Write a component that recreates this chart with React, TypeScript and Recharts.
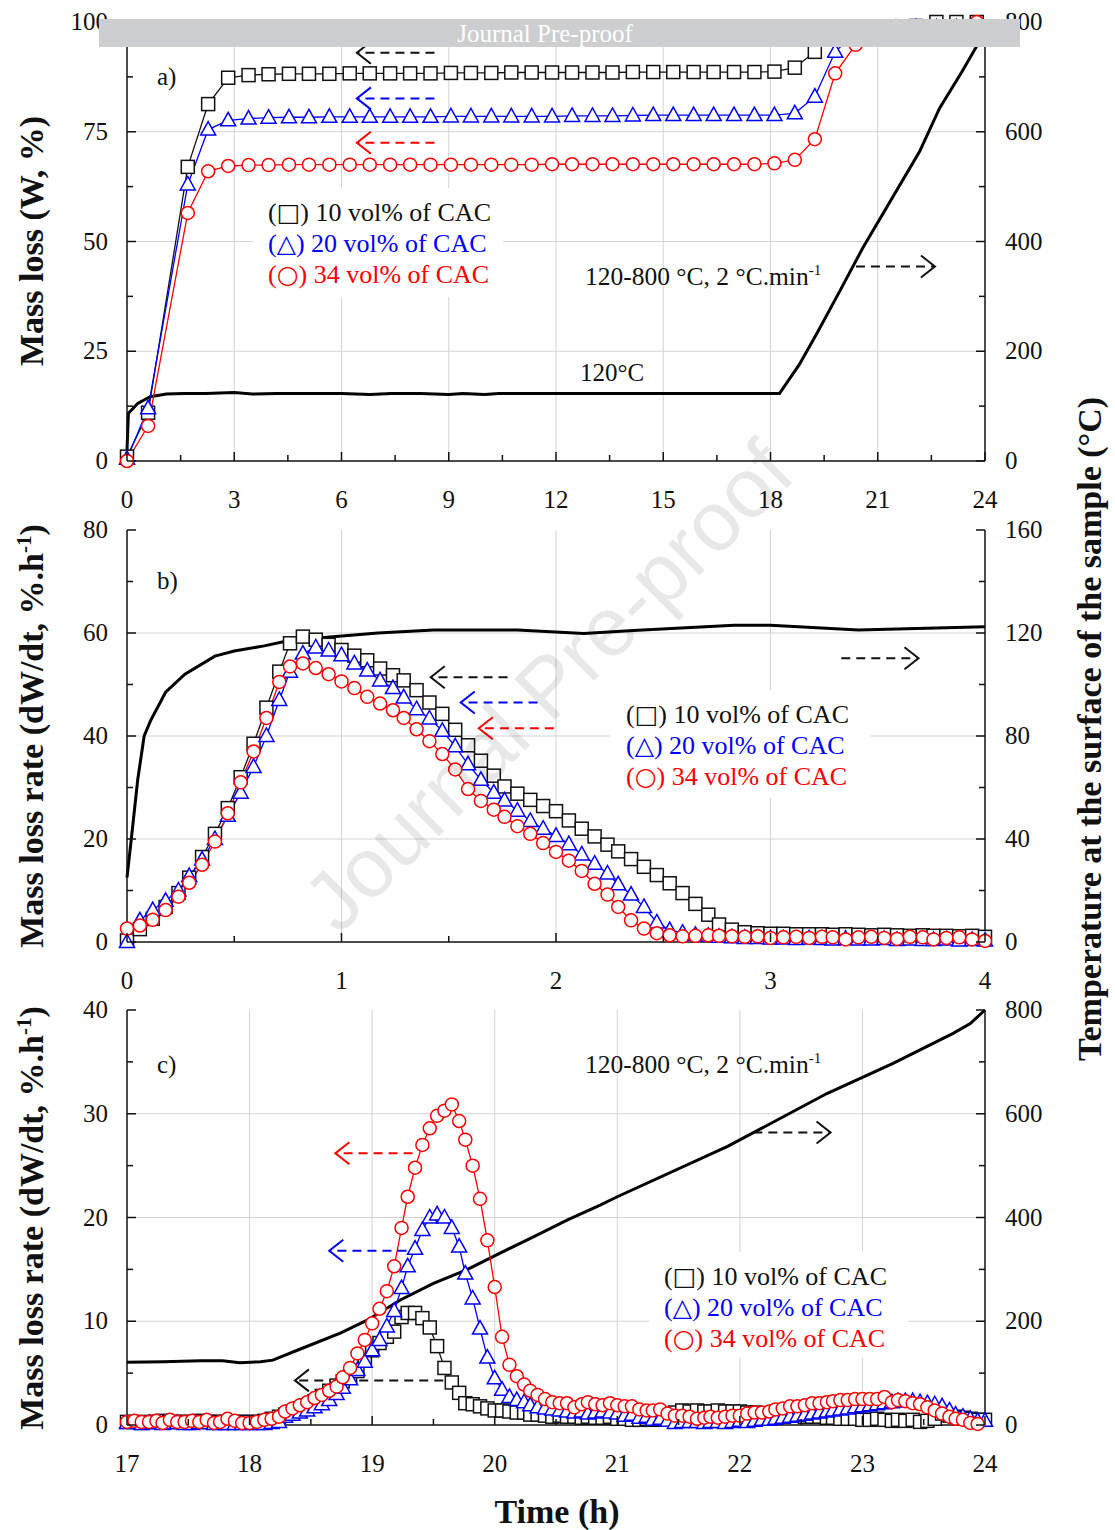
import React from "react";
import { ComposedChart, Line, XAxis, YAxis, CartesianGrid, ReferenceLine } from "recharts";

// ---------- panel a) mass loss, 0-24 h ----------
const timeA = [0, 0.59, 1.7, 2.27, 2.83, 3.4, 3.96, 4.53, 5.09, 5.66, 6.23, 6.79, 7.36, 7.92, 8.49, 9.06, 9.62, 10.19, 10.75, 11.32, 11.89, 12.45, 13.02, 13.58, 14.15, 14.72, 15.28, 15.85, 16.41, 16.98, 17.55, 18.11, 18.68, 19.24, 19.81, 20.38, 20.94, 21.51, 22.07, 22.64, 23.2, 23.77];
const lossA10 = [1, 11, 67, 81.3, 87.3, 87.9, 88.1, 88.2, 88.2, 88.2, 88.3, 88.3, 88.3, 88.3, 88.3, 88.4, 88.4, 88.4, 88.5, 88.5, 88.5, 88.5, 88.5, 88.5, 88.6, 88.6, 88.6, 88.6, 88.6, 88.6, 88.6, 88.7, 89.6, 93.2, 97, 98.3, 98.8, 99.0, 99.1, 100, 100, 100];
const lossA20 = [0.5, 12, 63, 75.5, 77.6, 78, 78.2, 78.3, 78.3, 78.4, 78.4, 78.4, 78.4, 78.4, 78.4, 78.5, 78.5, 78.5, 78.5, 78.5, 78.5, 78.6, 78.6, 78.6, 78.7, 78.8, 78.8, 78.8, 78.8, 78.8, 78.8, 78.8, 79.2, 83, 93.2, 97.6, 98.4, 98.7, 98.8, 98.8, 98.8, 98.8];
const lossA34 = [0, 8, 56.5, 66, 67.2, 67.4, 67.4, 67.5, 67.5, 67.5, 67.5, 67.5, 67.5, 67.5, 67.5, 67.5, 67.5, 67.5, 67.5, 67.5, 67.6, 67.6, 67.6, 67.6, 67.6, 67.6, 67.6, 67.6, 67.6, 67.6, 67.6, 67.8, 68.6, 73.3, 88.3, 94.8, 97.5, 98.3, 98.7, 99.0, 99.1, 100];
const tempTimeA = [0, 0.04, 0.3, 0.65, 1.1, 1.6, 2.2, 3.0, 3.5, 4.2, 5, 6, 6.8, 7.4, 8.2, 9.0, 9.4, 10.0, 10.4, 11.2, 12, 13, 14, 15, 16, 17, 18.25, 18.8, 19.3, 19.9, 20.58, 22.17, 22.73, 23.35, 23.76, 24];
const tempA = [20, 87, 105, 117, 122, 123, 123, 125, 122, 123, 123, 123, 121, 123, 123, 121, 123, 121, 123, 123, 123, 123, 123, 123, 123, 123, 123, 175, 233, 305, 388, 564, 643, 709, 755, 800];

// ---------- panel b) mass loss rate, 0-4 h ----------
const timeB = [0, 0.06, 0.12, 0.18, 0.24, 0.29, 0.35, 0.41, 0.47, 0.53, 0.59, 0.65, 0.71, 0.76, 0.82, 0.88, 0.94, 1.0, 1.06, 1.12, 1.18, 1.24, 1.29, 1.35, 1.41, 1.47, 1.53, 1.59, 1.65, 1.71, 1.76, 1.82, 1.88, 1.94, 2.0, 2.06, 2.12, 2.18, 2.24, 2.29, 2.35, 2.41, 2.47, 2.53, 2.59, 2.65, 2.71, 2.76, 2.82, 2.88, 2.94, 3.0, 3.06, 3.12, 3.18, 3.24, 3.29, 3.35, 3.41, 3.47, 3.53, 3.59, 3.65, 3.71, 3.76, 3.82, 3.88, 3.94, 4.0];
const rateB10 = [0.3, 2.5, 4.5, 6.8, 9.5, 12.5, 16.5, 21, 26, 32, 38.5, 45.5, 52.5, 58, 59.3, 58.7, 57.7, 56.7, 55.6, 54.7, 53.1, 51.8, 50.8, 48.9, 46.5, 44.3, 41.2, 38.2, 35.2, 32.3, 30.2, 28.8, 27.6, 26.4, 25.4, 23.6, 22.0, 20.5, 18.9, 17.6, 16.1, 14.6, 13.0, 11.4, 9.5, 7.4, 5.3, 3.4, 2.4, 1.9, 1.7, 1.6, 1.6, 1.5, 1.5, 1.5, 1.4, 1.5, 1.4, 1.3, 1.4, 1.3, 1.2, 1.3, 1.2, 1.2, 1.1, 1.2, 1.0];
const rateB20 = [0, 4.2, 6.2, 8.0, 10.0, 12.8, 16.0, 20.0, 24.5, 29, 34, 40, 47, 52.5, 56, 57.2, 56.6, 55.7, 54.1, 52.7, 50.8, 49.3, 47.5, 45.2, 43.4, 41, 38, 34.5, 31.5, 29, 27.5, 25.5, 23.5, 22, 20.6, 19, 17, 15.2, 13.3, 11.2, 9.2, 6.8, 3.8, 2.3, 1.8, 1.4, 1.2, 1.0, 0.9, 0.8, 0.8, 0.7, 0.7, 0.6, 0.7, 0.6, 0.5, 0.6, 0.5, 0.5, 0.6, 0.4, 0.5, 0.4, 0.4, 0.5, 0.3, 0.4, 0.3];
const rateB34 = [2.6, 3.2, 4.3, 6.2, 8.8, 11.5, 15.0, 19.5, 25, 31, 37, 43.5, 50.5, 53.5, 54.1, 53.2, 52, 50.6, 49.3, 47.6, 46.3, 45, 43.5, 41.3, 39, 36.5, 33.5, 29.7, 27.4, 25.7, 24.3, 22.5, 21, 19.2, 17.5, 15.8, 13.8, 11.3, 9.2, 6.8, 4.2, 2.6, 1.7, 1.3, 1.1, 1.2, 1.3, 1.2, 1.1, 1.0, 1.1, 0.8, 0.9, 1.0, 0.8, 1.0, 0.9, 0.5, 0.9, 1.0, 0.8, 0.6, 1.0, 0.9, 0.5, 0.8, 0.9, 0.5, 0.2];
const tempTimeB = [0, 0.02, 0.05, 0.08, 0.11, 0.18, 0.27, 0.41, 0.5, 0.64, 0.75, 0.96, 1.17, 1.43, 1.82, 2.13, 2.36, 2.83, 3.0, 3.41, 4.0];
const tempB = [25, 40, 63, 80, 86, 97, 104, 111, 113, 115, 117, 118.5, 120, 121.2, 121.2, 119.8, 121, 123, 123, 121.2, 122.4];

// ---------- panel c) mass loss rate, 17-24 h ----------
const timeC = [
  17.0, 17.06, 17.12, 17.18, 17.24, 17.29, 17.35, 17.41, 17.47, 17.53, 17.59, 17.65, 17.71, 17.76, 17.82, 17.88, 17.94,
  18.0, 18.06, 18.12, 18.18, 18.24, 18.29, 18.35, 18.41, 18.47, 18.53, 18.59, 18.65, 18.71, 18.76, 18.82, 18.88, 18.94,
  19.0, 19.06, 19.12, 19.18, 19.24, 19.29, 19.35, 19.41, 19.47, 19.53, 19.59, 19.65, 19.71, 19.76, 19.82, 19.88, 19.94,
  20.0, 20.06, 20.12, 20.18, 20.24, 20.29, 20.35, 20.41, 20.47, 20.53, 20.59, 20.65, 20.71, 20.76, 20.82, 20.88, 20.94,
  21.0, 21.06, 21.12, 21.18, 21.24, 21.29, 21.35, 21.41, 21.47, 21.53, 21.59, 21.65, 21.71, 21.76, 21.82, 21.88, 21.94,
  22.0, 22.06, 22.12, 22.18, 22.24, 22.29, 22.35, 22.41, 22.47, 22.53, 22.59, 22.65, 22.71, 22.76, 22.82, 22.88, 22.94,
  23.0, 23.06, 23.12, 23.18, 23.24, 23.29, 23.35, 23.41, 23.47, 23.53, 23.59, 23.65, 23.71, 23.76, 23.82, 23.88, 23.94,
  24.0,
];
const rateC10 = [
  0.3, 0.3, 0.2, 0.3, 0.3, 0.4, 0.3, 0.3, 0.3, 0.3, 0.4, 0.3, 0.3, 0.3, 0.3, 0.3, 0.3,
  0.3, 0.3, 0.4, 0.6, 0.8, 1.0, 1.3, 1.6, 1.9, 2.3, 2.8, 3.3, 3.8, 4.2, 4.7, 5.2, 6.2,
  7.2, 7.9, 8.5, 9.0, 10.4, 10.8, 10.8, 10.3, 9.4, 7.6, 5.5, 4.1, 3.1, 2.1, 2.0, 1.8, 1.6,
  1.4, 1.4, 1.3, 1.2, 1.2, 1.0, 1.0, 0.9, 0.8, 0.9, 0.8, 0.8, 0.7, 0.8, 0.7, 0.7, 0.8,
  0.6, 0.6, 0.5, 0.5, 0.6, 0.5, 0.6, 0.9, 1.2, 1.4, 1.3, 1.4, 1.3, 1.3, 1.4, 1.3, 1.3,
  1.3, 1.2, 1.2, 1.1, 1.1, 1.0, 1.0, 0.9, 0.9, 0.8, 0.8, 0.8, 0.7, 0.7, 0.6, 0.6, 0.6,
  0.5, 0.5, 0.6, 0.5, 0.4, 0.5, 0.4, 0.5, 0.3, 0.4, 0.6, 1.1, 0.9, 0.8, 0.7, 0.6, 0.5,
  0.5,
];
const rateC20 = [
  0.2, 0.2, 0.1, 0.2, 0.2, 0.1, 0.2, 0.2, 0.1, 0.1, 0.2, 0.2, 0.1, 0.1, 0.1, 0.1, 0.1,
  0.1, 0.1, 0.1, 0.2, 0.3, 0.8, 1.0, 1.2, 1.4, 1.7, 2.0, 2.4, 3.0, 3.6, 4.4, 5.3, 6.1,
  7.2, 8.2, 9.5, 11.0, 13.2, 15.3, 17.0, 18.8, 20.0, 20.3, 20.0, 19.0, 17.2, 14.6, 12.2, 9.3, 6.5,
  4.5, 3.4, 2.7, 2.4, 2.2, 1.9, 1.7, 1.6, 1.5, 1.4, 1.3, 1.2, 1.3, 1.1, 1.2, 1.3, 1.2,
  1.1, 0.9, 1.0, 0.7, 0.8, 0.5, 0.6, 0.4, 0.2, 0.3, 0.3, 0.3, 0.2, 0.3, 0.3, 0.2, 0.3,
  0.4, 0.3, 0.4, 0.5, 0.5, 0.6, 0.7, 0.8, 0.9, 1.0, 1.1, 1.2, 1.3, 1.4, 1.5, 1.6, 1.7,
  1.8, 1.9, 2.0, 2.1, 2.2, 2.3, 2.3, 2.3, 2.2, 2.1, 2.0, 1.8, 1.4, 1.0, 0.8, 0.6, 0.4,
  0.4,
];
const rateC34 = [
  0.3, 0.4, 0.3, 0.3, 0.4, 0.2, 0.5, 0.3, 0.3, 0.4, 0.3, 0.5, 0.2, 0.3, 0.6, 0.4, 0.2,
  0.2, 0.3, 0.5, 0.6, 0.8, 1.3, 1.6, 1.9, 2.2, 2.6, 2.9, 3.3, 3.7, 4.6, 5.5, 6.9, 8.2,
  9.8, 11.2, 12.9, 15.3, 19.0, 22.0, 24.8, 27.0, 28.6, 29.8, 30.3, 30.9, 29.3, 27.5, 25.0, 21.8, 17.8,
  13.3, 8.5, 5.8, 4.7, 3.9, 3.3, 2.9, 2.5, 2.2, 2.1, 2.1, 1.7, 2.0, 2.2, 2.0, 1.9, 2.1,
  1.9, 1.8, 1.8, 1.5, 1.4, 1.4, 1.5, 1.1, 0.9, 0.9, 0.8, 0.6, 0.7, 0.8, 0.7, 0.8, 0.9,
  0.9, 1.1, 1.2, 1.2, 1.3, 1.5, 1.6, 1.8, 1.8, 1.9, 2.1, 2.1, 2.2, 2.3, 2.4, 2.4, 2.5,
  2.5, 2.5, 2.5, 2.7, 2.2, 2.4, 2.3, 2.1, 2.0, 1.7, 1.4, 1.1, 0.8, 0.6, 0.5, 0.2, 0.1,
];
const tempTimeC = [17, 17.3, 17.6, 17.78, 17.92, 18.09, 18.19, 18.41, 18.74, 18.96, 19.23, 19.5, 19.77, 20.04, 20.32, 20.59, 20.86, 21.0, 21.9, 22.71, 23.25, 23.74, 23.88, 24];
const tempC = [121, 122, 124, 124, 120, 122, 125, 146, 177, 202, 241, 273, 299, 331, 363, 395, 424, 440, 537, 639, 697, 755, 774, 800];

// ---------- axis ticks ----------
const xTicksA = [0, 1.5, 3, 4.5, 6, 7.5, 9, 10.5, 12, 13.5, 15, 16.5, 18, 19.5, 21, 22.5, 24];
const xMajorA = [0, 3, 6, 9, 12, 15, 18, 21, 24];
const yTicksA = [0, 12.5, 25, 37.5, 50, 62.5, 75, 87.5, 100];
const yMajorA = [0, 25, 50, 75, 100];
const xTicksB = [0, 0.5, 1, 1.5, 2, 2.5, 3, 3.5, 4];
const xMajorB = [0, 1, 2, 3, 4];
const yTicksB = [0, 10, 20, 30, 40, 50, 60, 70, 80];
const yMajorB = [0, 20, 40, 60, 80];
const rTicksB = [0, 20, 40, 60, 80, 100, 120, 140, 160];
const rMajorB = [0, 40, 80, 120, 160];
const xTicksC = [17, 17.5, 18, 18.5, 19, 19.5, 20, 20.5, 21, 21.5, 22, 22.5, 23, 23.5, 24];
const xMajorC = [17, 18, 19, 20, 21, 22, 23, 24];
const yTicksC = [0, 5, 10, 15, 20, 25, 30, 35, 40];
const yMajorC = [0, 10, 20, 30, 40];
const rTicks800 = [0, 100, 200, 300, 400, 500, 600, 700, 800];
const rMajor800 = [0, 200, 400, 600, 800];

const FONT = '"Liberation Serif", "Times New Roman", serif';
const SYM = '"DejaVu Sans", sans-serif';
const INK = "#111111";
const BLUE = "#0000ff";
const RED = "#ff0000";
const GRID = "#d3d3d3";

// dashed direction arrows, in data units of the left axis
const arrowsA = [
  { from: 8.6, to: 6.43, y: 93.0, color: INK },
  { from: 8.6, to: 6.43, y: 82.6, color: BLUE },
  { from: 8.6, to: 6.43, y: 72.5, color: RED },
  { from: 20.39, to: 22.6, y: 44.3, color: INK },
];
const arrowsB = [
  { from: 1.774, to: 1.416, y: 51.4, color: INK },
  { from: 1.914, to: 1.556, y: 46.5, color: BLUE },
  { from: 1.99, to: 1.64, y: 41.5, color: RED },
  { from: 3.33, to: 3.69, y: 55.1, color: INK },
];
const arrowsC = [
  { from: 19.33, to: 18.7, y: 26.2, color: RED },
  { from: 19.28, to: 18.65, y: 16.8, color: BLUE },
  { from: 19.58, to: 18.37, y: 4.3, color: INK },
  { from: 22.11, to: 22.74, y: 28.2, color: INK },
];

const pts = (t: number[], v: number[]) => v.map((val, i) => ({ t: t[i], v: val }));

const tickMaker = (side: "left" | "right" | "bottom", majors: number[]) => (props: any) => {
  const { x, y, payload } = props;
  const value = payload.value as number;
  const major = majors.some((m) => Math.abs(m - value) < 1e-6);
  const len = major ? 9 : 6;
  const txt = { fontFamily: FONT, fontSize: 25, fill: INK } as const;
  if (side === "bottom") {
    return (
      <g>
        <line x1={x} y1={y} x2={x} y2={y - len} stroke={INK} strokeWidth={1.5} />
        {major && <text x={x} y={y + 47} textAnchor="middle" {...txt}>{value}</text>}
      </g>
    );
  }
  if (side === "left") {
    return (
      <g>
        <line x1={x} y1={y} x2={x + len} y2={y} stroke={INK} strokeWidth={1.5} />
        {major && <text x={x - 19} y={y + 8} textAnchor="end" {...txt}>{value}</text>}
      </g>
    );
  }
  return (
    <g>
      <line x1={x} y1={y} x2={x - len} y2={y} stroke={INK} strokeWidth={1.5} />
      {major && <text x={x + 20} y={y + 8} textAnchor="start" {...txt}>{value}</text>}
    </g>
  );
};

const squareDot = (color: string) => (p: any) => {
  const { cx, cy, index } = p;
  if (cx == null || cy == null) return <g key={`s${index}`} />;
  return <rect key={`s${index}`} x={cx - 6.5} y={cy - 6.5} width={13} height={13} fill="#fff" stroke={color} strokeWidth={1.5} />;
};
const triDot = (color: string) => (p: any) => {
  const { cx, cy, index } = p;
  if (cx == null || cy == null) return <g key={`t${index}`} />;
  return (
    <polygon
      key={`t${index}`}
      points={`${cx},${cy - 8} ${cx + 7.5},${cy + 5.5} ${cx - 7.5},${cy + 5.5}`}
      fill="#fff"
      stroke={color}
      strokeWidth={1.5}
    />
  );
};
const circleDot = (color: string) => (p: any) => {
  const { cx, cy, index } = p;
  if (cx == null || cy == null) return <g key={`c${index}`} />;
  return <circle key={`c${index}`} cx={cx} cy={cy} r={6.5} fill="#fff" stroke={color} strokeWidth={1.5} />;
};

const arrowShape = (color: string) => (p: any) => {
  const { x1, y1, x2, y2 } = p;
  const dir = x2 > x1 ? 1 : -1;
  return (
    <g>
      <line x1={x1} y1={y1} x2={x2} y2={y2} stroke={color} strokeWidth={2} strokeDasharray="9 6" />
      <polyline
        points={`${x2 - dir * 14},${y2 - 11} ${x2},${y2} ${x2 - dir * 14},${y2 + 11}`}
        fill="none"
        stroke={color}
        strokeWidth={2}
      />
    </g>
  );
};

type Arrow = { from: number; to: number; y: number; color: string };

type PanelProps = {
  top: number;
  height: number;
  margin: { top: number; right: number; bottom: number; left: number };
  xDomain: [number, number];
  xTicks: number[];
  xMajors: number[];
  yDomain: [number, number];
  yTicks: number[];
  yMajors: number[];
  rDomain: [number, number];
  rTicks: number[];
  rMajors: number[];
  temp: { t: number; v: number }[];
  s10: { t: number; v: number }[];
  s20: { t: number; v: number }[];
  s34: { t: number; v: number }[];
  arrows: Arrow[];
};

function Panel(p: PanelProps) {
  const inner = (list: number[], d: [number, number]) => list.filter((v) => v > d[0] && v < d[1]);
  return (
    <div style={{ position: "absolute", left: 0, top: p.top }}>
      <ComposedChart width={1115} height={p.height} margin={p.margin}>
        <CartesianGrid
          yAxisId="l"
          stroke={GRID}
          strokeWidth={1}
          horizontalValues={inner(p.yMajors, p.yDomain)}
          verticalValues={inner(p.xMajors, p.xDomain)}
        />
        <XAxis
          type="number"
          dataKey="t"
          domain={p.xDomain}
          ticks={p.xTicks}
          interval={0}
          height={40}
          tickSize={0}
          tickMargin={0}
          tickLine={false}
          axisLine={{ stroke: INK, strokeWidth: 1.5 }}
          tick={tickMaker("bottom", p.xMajors)}
        />
        <XAxis
          xAxisId="top"
          orientation="top"
          type="number"
          domain={p.xDomain}
          height={0}
          tick={false}
          tickLine={false}
          axisLine={{ stroke: INK, strokeWidth: 1.5 }}
        />
        <YAxis
          yAxisId="l"
          type="number"
          domain={p.yDomain}
          ticks={p.yTicks}
          interval={0}
          width={60}
          tickSize={0}
          tickMargin={0}
          tickLine={false}
          axisLine={{ stroke: INK, strokeWidth: 1.5 }}
          tick={tickMaker("left", p.yMajors)}
        />
        <YAxis
          yAxisId="r"
          orientation="right"
          type="number"
          domain={p.rDomain}
          ticks={p.rTicks}
          interval={0}
          width={60}
          tickSize={0}
          tickMargin={0}
          tickLine={false}
          axisLine={{ stroke: INK, strokeWidth: 1.5 }}
          tick={tickMaker("right", p.rMajors)}
        />
        <Line yAxisId="r" data={p.temp} dataKey="v" type="linear" stroke="#000" strokeWidth={3} dot={false} isAnimationActive={false} />
        <Line yAxisId="l" data={p.s10} dataKey="v" type="linear" stroke={INK} strokeWidth={1.3} dot={squareDot(INK)} isAnimationActive={false} />
        <Line yAxisId="l" data={p.s20} dataKey="v" type="linear" stroke={BLUE} strokeWidth={1.3} dot={triDot(BLUE)} isAnimationActive={false} />
        <Line yAxisId="l" data={p.s34} dataKey="v" type="linear" stroke={RED} strokeWidth={1.3} dot={circleDot(RED)} isAnimationActive={false} />
        {p.arrows.map((a, i) => (
          <ReferenceLine
            key={i}
            yAxisId="l"
            segment={[{ x: a.from, y: a.y }, { x: a.to, y: a.y }]}
            shape={arrowShape(a.color)}
          />
        ))}
      </ComposedChart>
    </div>
  );
}

function LegendRow({ x, y, color, sym, label }: { x: number; y: number; color: string; sym: string; label: string }) {
  return (
    <text x={x} y={y} fill={color} fontFamily={FONT} fontSize={26}>
      (<tspan fontFamily={SYM} fontSize={25}>{sym}</tspan>) {label}
    </text>
  );
}

function Legend({ x, y, w, h }: { x: number; y: number; w: number; h: number }) {
  const tx = x + 15;
  return (
    <g>
      <rect x={x} y={y} width={w} height={h} fill="#fff" />
      <LegendRow x={tx} y={y + 33} color={INK} sym="□" label="10 vol% of CAC" />
      <LegendRow x={tx} y={y + 64} color={BLUE} sym="△" label="20 vol% of CAC" />
      <LegendRow x={tx} y={y + 95} color={RED} sym="○" label="34 vol% of CAC" />
    </g>
  );
}

function RampLabel({ x, y }: { x: number; y: number }) {
  return (
    <text x={x} y={y} fontFamily={FONT} fontSize={25.5} fill={INK}>
      120-800 °C, 2 °C.min<tspan dy={-10} fontSize={15}>-1</tspan>
    </text>
  );
}

function RateTitle({ cy }: { cy: number }) {
  return (
    <text transform={`translate(43,${cy}) rotate(-90)`} textAnchor="middle" fontFamily={FONT} fontSize={34} fontWeight="bold" fill={INK}>
      Mass loss rate (dW/dt, %.h<tspan dy={-12} fontSize={21}>-1</tspan>
      <tspan dy={12}>)</tspan>
    </text>
  );
}

export default function App() {
  return (
    <div style={{ position: "absolute", left: 0, top: 0, width: 1115, height: 1530, background: "#fff", fontFamily: FONT }}>
      <Panel
        top={0}
        height={520}
        margin={{ top: 22, right: 70, bottom: 19, left: 67 }}
        xDomain={[0, 24]}
        xTicks={xTicksA}
        xMajors={xMajorA}
        yDomain={[0, 100]}
        yTicks={yTicksA}
        yMajors={yMajorA}
        rDomain={[0, 800]}
        rTicks={rTicks800}
        rMajors={rMajor800}
        temp={pts(tempTimeA, tempA)}
        s10={pts(timeA, lossA10)}
        s20={pts(timeA, lossA20)}
        s34={pts(timeA, lossA34)}
        arrows={arrowsA}
      />
      <Panel
        top={500}
        height={500}
        margin={{ top: 30, right: 70, bottom: 18, left: 67 }}
        xDomain={[0, 4]}
        xTicks={xTicksB}
        xMajors={xMajorB}
        yDomain={[0, 80]}
        yTicks={yTicksB}
        yMajors={yMajorB}
        rDomain={[0, 160]}
        rTicks={rTicksB}
        rMajors={rMajorB}
        temp={pts(tempTimeB, tempB)}
        s10={pts(timeB, rateB10)}
        s20={pts(timeB, rateB20)}
        s34={pts(timeB, rateB34)}
        arrows={arrowsB}
      />
      <Panel
        top={990}
        height={510}
        margin={{ top: 20, right: 70, bottom: 35, left: 67 }}
        xDomain={[17, 24]}
        xTicks={xTicksC}
        xMajors={xMajorC}
        yDomain={[0, 40]}
        yTicks={yTicksC}
        yMajors={yMajorC}
        rDomain={[0, 800]}
        rTicks={rTicks800}
        rMajors={rMajor800}
        temp={pts(tempTimeC, tempC)}
        s10={pts(timeC, rateC10)}
        s20={pts(timeC, rateC20)}
        s34={pts(timeC, rateC34)}
        arrows={arrowsC}
      />
      <svg width={1115} height={1530} style={{ position: "absolute", left: 0, top: 0, pointerEvents: "none" }}>
        <Legend x={253} y={188} w={250} h={109} />
        <Legend x={611} y={690} w={259} h={108} />
        <Legend x={649} y={1252} w={259} h={106} />

        <g fontFamily={FONT} fontSize={25} fill={INK}>
          <text x={157} y={85}>a)</text>
          <text x={157} y={589}>b)</text>
          <text x={157} y={1073}>c)</text>
          <text x={580} y={381}>120°C</text>
        </g>
        <RampLabel x={585} y={285} />
        <RampLabel x={585} y={1073} />

        <text transform="translate(43,241) rotate(-90)" textAnchor="middle" fontFamily={FONT} fontSize={34} fontWeight="bold" fill={INK}>
          Mass loss (W, %)
        </text>
        <RateTitle cy={736} />
        <RateTitle cy={1218} />
        <text transform="translate(1101,729) rotate(-90)" textAnchor="middle" fontFamily={FONT} fontSize={34} fontWeight="bold" fill={INK}>
          Temperature at the surface of the sample (°C)
        </text>
        <text x={557} y={1523} textAnchor="middle" fontFamily={FONT} fontSize={34} fontWeight="bold" fill={INK}>
          Time (h)
        </text>

        <text
          transform="translate(548,686) rotate(-45)"
          textAnchor="middle"
          dominantBaseline="central"
          fontFamily='"Liberation Sans", Arial, sans-serif'
          fontSize={84}
          fill="#000"
          fillOpacity={0.09}
        >
          Journal Pre-proof
        </text>

        <rect x={99} y={19} width={921} height={28} fill="#cdcecf" />
        <text x={545} y={42} textAnchor="middle" fontFamily={FONT} fontSize={25} fill="#fff">
          Journal Pre-proof
        </text>
      </svg>
    </div>
  );
}
